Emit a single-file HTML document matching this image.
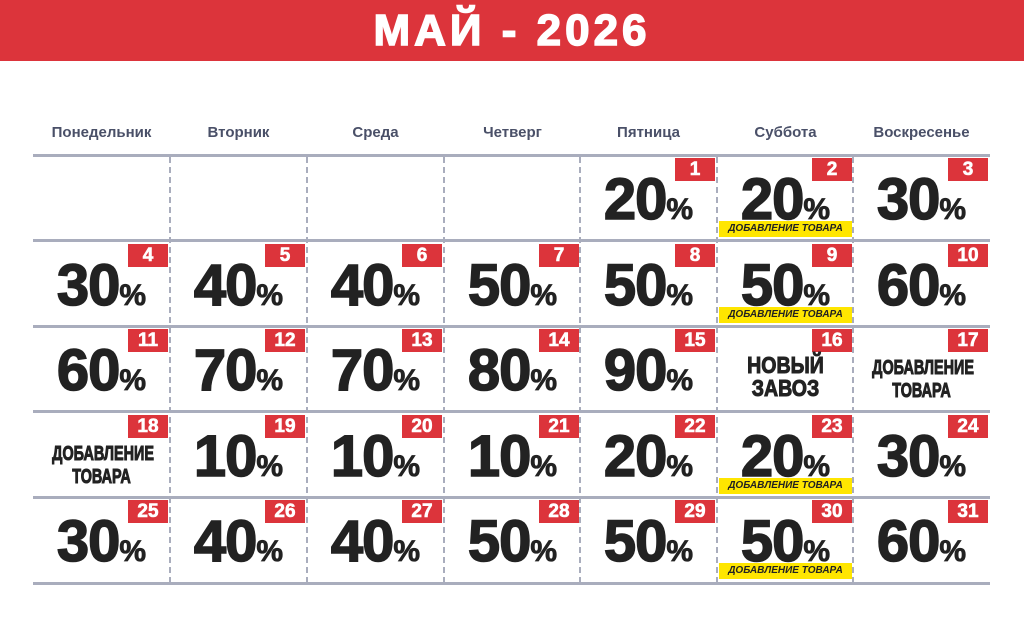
<!DOCTYPE html>
<html><head><meta charset="utf-8"><style>
*{margin:0;padding:0;box-sizing:border-box}
body{width:1024px;height:641px;background:#fff;position:relative;overflow:hidden;font-family:"Liberation Sans",sans-serif}
.hdr{position:absolute;left:0;top:0;width:1024px;height:61px;background:#dc343b;color:#fff;text-align:center;font-weight:bold;font-size:44px;line-height:61px;letter-spacing:4px;-webkit-text-stroke:1.5px #fff}
.dn{position:absolute;top:124px;width:137px;text-align:center;font-weight:bold;font-size:15px;color:#4a5068}
.hl{position:absolute;left:33px;width:957px;height:3px;background:#a9adbd}
.vl{position:absolute;top:157px;height:426px;border-left:2px dashed #a9adbd}
.c{position:absolute;width:137px;height:86px}
.b{position:absolute;right:2px;top:3px;height:23px;min-width:40px;padding:0 5px;background:#dc343b;color:#fff;font-weight:bold;font-size:19px;line-height:23px;text-align:center;-webkit-text-stroke:.6px #fff}
.n{position:absolute;left:0;right:0;top:16px;text-align:center;font-weight:bold;font-size:58px;line-height:58px;color:#222;letter-spacing:-1px;-webkit-text-stroke:1.5px #222}
.n span{font-size:30px;letter-spacing:0;-webkit-text-stroke:.8px #222}
.y{position:absolute;left:2px;right:2px;bottom:4px;height:16px;background:#ffe600;color:#222;font-weight:bold;font-style:italic;font-size:10px;line-height:16px;text-align:center}
.t{position:absolute;left:0;right:0;top:28px;text-align:center;font-weight:bold;color:#222;font-size:23px;line-height:23px;transform:scaleX(.85);-webkit-text-stroke:1px #222}
.t2{font-size:20px;line-height:23px;top:31px;transform:scaleX(.72)}
</style></head><body>
<div class="hdr">МАЙ - 2026</div>
<div class="dn" style="left:33px">Понедельник</div>
<div class="dn" style="left:170px">Вторник</div>
<div class="dn" style="left:307px">Среда</div>
<div class="dn" style="left:444px">Четверг</div>
<div class="dn" style="left:580px">Пятница</div>
<div class="dn" style="left:717px">Суббота</div>
<div class="dn" style="left:853px">Воскресенье</div>
<div class="hl" style="top:154px"></div>
<div class="hl" style="top:239px"></div>
<div class="hl" style="top:325px"></div>
<div class="hl" style="top:410px"></div>
<div class="hl" style="top:496px"></div>
<div class="hl" style="top:582px"></div>
<div class="vl" style="left:169px"></div>
<div class="vl" style="left:306px"></div>
<div class="vl" style="left:443px"></div>
<div class="vl" style="left:579px"></div>
<div class="vl" style="left:716px"></div>
<div class="vl" style="left:852px"></div>

<div class="c" style="left:580px;top:155px"><div class="b">1</div><div class="n">20<span>%</span></div></div>
<div class="c" style="left:717px;top:155px"><div class="b">2</div><div class="n">20<span>%</span></div><div class="y">ДОБАВЛЕНИЕ ТОВАРА</div></div>
<div class="c" style="left:853px;top:155px"><div class="b">3</div><div class="n">30<span>%</span></div></div>

<div class="c" style="left:33px;top:241px"><div class="b">4</div><div class="n">30<span>%</span></div></div>
<div class="c" style="left:170px;top:241px"><div class="b">5</div><div class="n">40<span>%</span></div></div>
<div class="c" style="left:307px;top:241px"><div class="b">6</div><div class="n">40<span>%</span></div></div>
<div class="c" style="left:444px;top:241px"><div class="b">7</div><div class="n">50<span>%</span></div></div>
<div class="c" style="left:580px;top:241px"><div class="b">8</div><div class="n">50<span>%</span></div></div>
<div class="c" style="left:717px;top:241px"><div class="b">9</div><div class="n">50<span>%</span></div><div class="y">ДОБАВЛЕНИЕ ТОВАРА</div></div>
<div class="c" style="left:853px;top:241px"><div class="b">10</div><div class="n">60<span>%</span></div></div>

<div class="c" style="left:33px;top:326px"><div class="b">11</div><div class="n">60<span>%</span></div></div>
<div class="c" style="left:170px;top:326px"><div class="b">12</div><div class="n">70<span>%</span></div></div>
<div class="c" style="left:307px;top:326px"><div class="b">13</div><div class="n">70<span>%</span></div></div>
<div class="c" style="left:444px;top:326px"><div class="b">14</div><div class="n">80<span>%</span></div></div>
<div class="c" style="left:580px;top:326px"><div class="b">15</div><div class="n">90<span>%</span></div></div>
<div class="c" style="left:717px;top:326px"><div class="b">16</div><div class="t">НОВЫЙ<br>ЗАВОЗ</div></div>
<div class="c" style="left:853px;top:326px"><div class="b">17</div><div class="t t2">ДОБАВЛЕНИЕ<br>ТОВАРА</div></div>

<div class="c" style="left:33px;top:412px"><div class="b">18</div><div class="t t2">ДОБАВЛЕНИЕ<br>ТОВАРА</div></div>
<div class="c" style="left:170px;top:412px"><div class="b">19</div><div class="n">10<span>%</span></div></div>
<div class="c" style="left:307px;top:412px"><div class="b">20</div><div class="n">10<span>%</span></div></div>
<div class="c" style="left:444px;top:412px"><div class="b">21</div><div class="n">10<span>%</span></div></div>
<div class="c" style="left:580px;top:412px"><div class="b">22</div><div class="n">20<span>%</span></div></div>
<div class="c" style="left:717px;top:412px"><div class="b">23</div><div class="n">20<span>%</span></div><div class="y">ДОБАВЛЕНИЕ ТОВАРА</div></div>
<div class="c" style="left:853px;top:412px"><div class="b">24</div><div class="n">30<span>%</span></div></div>

<div class="c" style="left:33px;top:497px"><div class="b">25</div><div class="n">30<span>%</span></div></div>
<div class="c" style="left:170px;top:497px"><div class="b">26</div><div class="n">40<span>%</span></div></div>
<div class="c" style="left:307px;top:497px"><div class="b">27</div><div class="n">40<span>%</span></div></div>
<div class="c" style="left:444px;top:497px"><div class="b">28</div><div class="n">50<span>%</span></div></div>
<div class="c" style="left:580px;top:497px"><div class="b">29</div><div class="n">50<span>%</span></div></div>
<div class="c" style="left:717px;top:497px"><div class="b">30</div><div class="n">50<span>%</span></div><div class="y">ДОБАВЛЕНИЕ ТОВАРА</div></div>
<div class="c" style="left:853px;top:497px"><div class="b">31</div><div class="n">60<span>%</span></div></div>
</body></html>
